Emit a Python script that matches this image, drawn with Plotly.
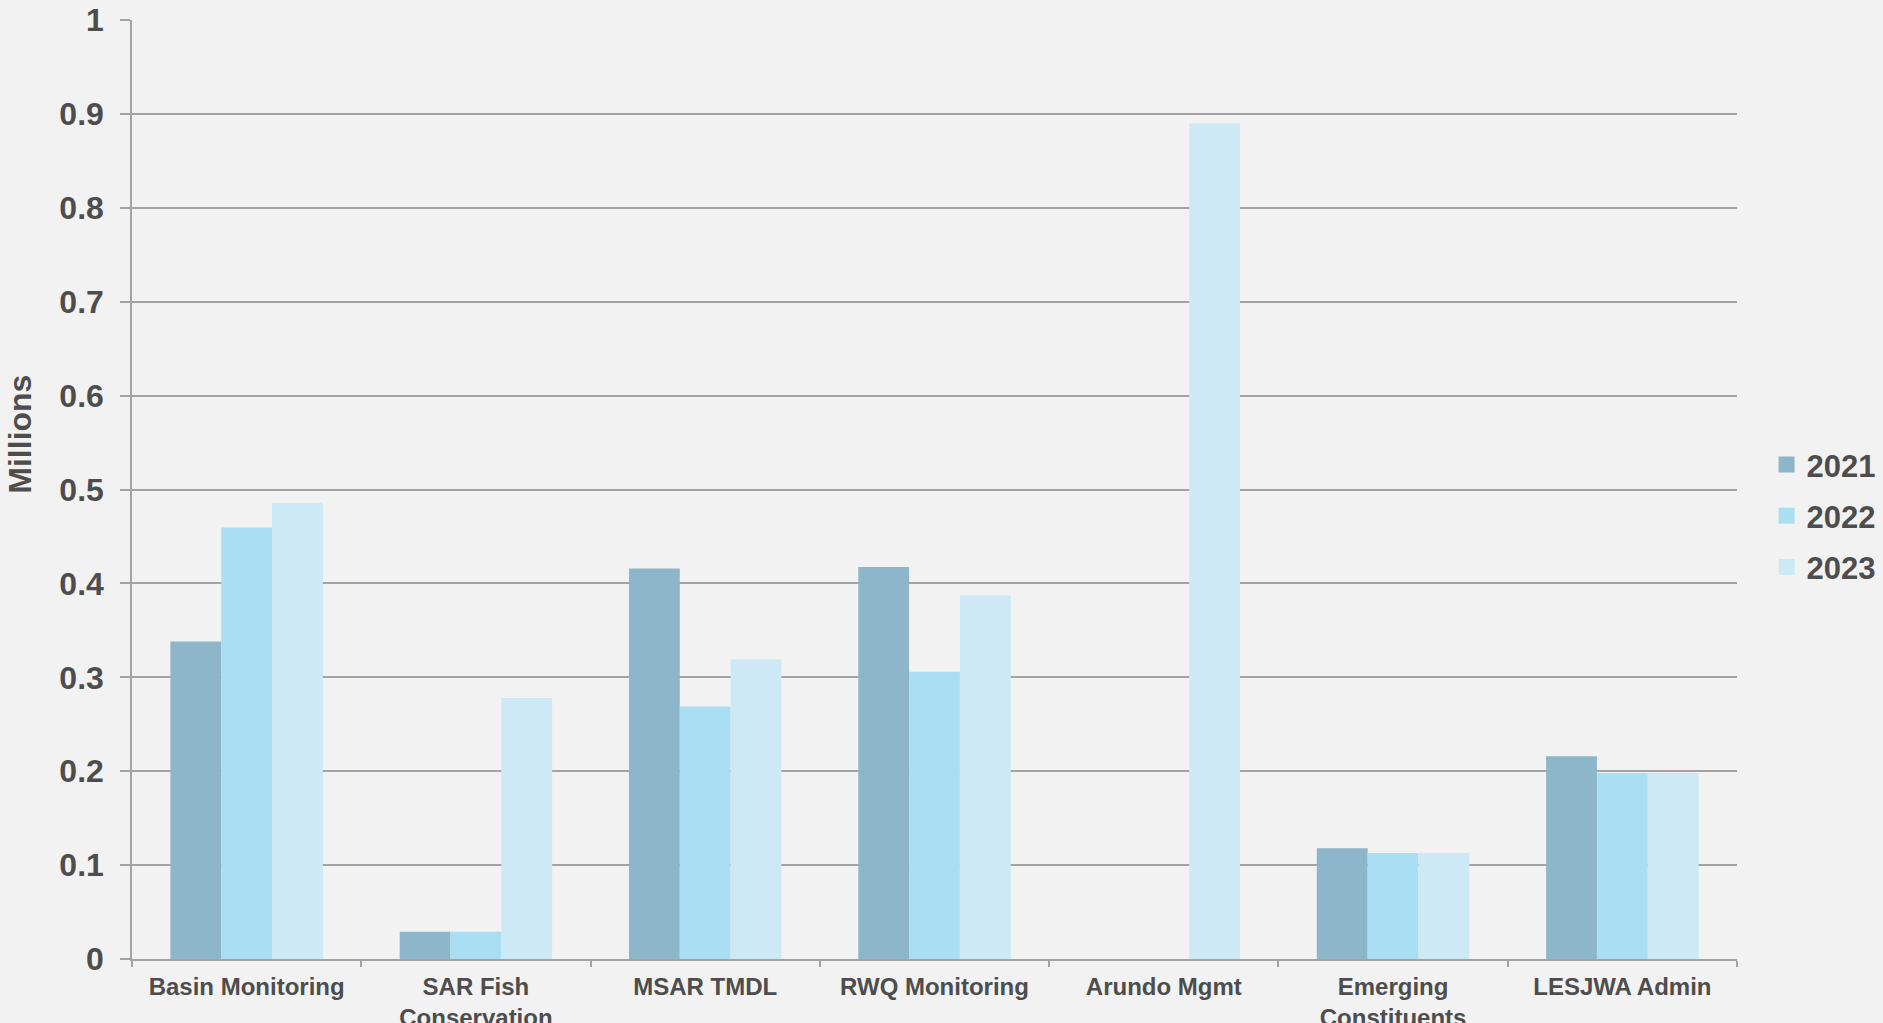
import plotly.graph_objects as go

categories = ["Basin Monitoring", "SAR Fish<br>Conservation", "MSAR TMDL", "RWQ Monitoring",
              "Arundo Mgmt", "Emerging<br>Constituents", "LESJWA Admin"]
series_names = ["2021", "2022", "2023"]
v2021 = [0.338, 0.029, 0.416, 0.4175, 0.0, 0.118, 0.216]
v2022 = [0.4595, 0.029, 0.269, 0.306, 0.0, 0.113, 0.198]
v2023 = [0.486, 0.278, 0.319, 0.387, 0.89, 0.113, 0.198]
colors = ["#8DB6CA", "#AADEF3", "#CDE9F6"]
y_title = "Millions"

W, H = 1883, 1023
L, R, T, B = 132, W - 1737, 20, H - 959
PW, PH = W - L - R, H - T - B
TXT = "#4D4D4D"
GRID = "#A3A3A3"
FONT = "Liberation Sans, Arial, sans-serif"

fig = go.Figure()
for name, vals, col in zip(series_names, [v2021, v2022, v2023], colors):
    fig.add_trace(go.Bar(x=categories, y=vals, name=name, marker=dict(color=col, line=dict(width=0)),
                         showlegend=False))
for name, col in zip(series_names, colors):
    fig.add_trace(go.Scatter(x=[None], y=[None], mode="markers", name=name, legendgroup=name,
                             marker=dict(symbol="square", size=16, color=col)))

fig.update_layout(
    width=W, height=H,
    margin=dict(l=L, r=R, t=T, b=B, pad=0, autoexpand=False),
    paper_bgcolor="#F2F2F2", plot_bgcolor="#F2F2F2",
    barmode="group", bargap=0.335, bargroupgap=0,
    font=dict(family=FONT, color=TXT),
    legend=dict(x=1.02 - 2.5 / PW, xanchor="left", y=0.4707 + 1.2 / PH, yanchor="middle",
                font=dict(size=31, family=FONT, color=TXT, weight="bold"),
                tracegroupgap=8, bgcolor="rgba(0,0,0,0)", itemclick=False),
    showlegend=True,
)
fig.add_annotation(text=y_title, xref="paper", yref="paper",
                   x=(20 - L) / PW, y=(959 - 434.7) / PH, xanchor="center", yanchor="middle",
                   textangle=-90, showarrow=False,
                   font=dict(size=32, family=FONT, color=TXT, weight="bold"))
fig.update_xaxes(
    showline=True, linecolor=GRID, linewidth=1.5,
    ticks="outside", tickson="boundaries", ticklen=6, tickcolor=GRID, tickwidth=1.5,
    showgrid=False, automargin=False, ticklabelstandoff=5,
    tickfont=dict(size=24, family=FONT, color=TXT, weight="bold"),
)
fig.update_yaxes(
    range=[0, 1], dtick=0.1, tick0=0,
    showline=True, linecolor=GRID, linewidth=1.5,
    showgrid=True, gridcolor=GRID, gridwidth=1.5,
    ticks="outside", ticklen=10, tickcolor=GRID, tickwidth=1.5,
    ticklabelstandoff=10, automargin=False,
    zeroline=False,
    tickfont=dict(size=32, family=FONT, color=TXT, weight="bold"),
)

fig.write_html("out.html")
